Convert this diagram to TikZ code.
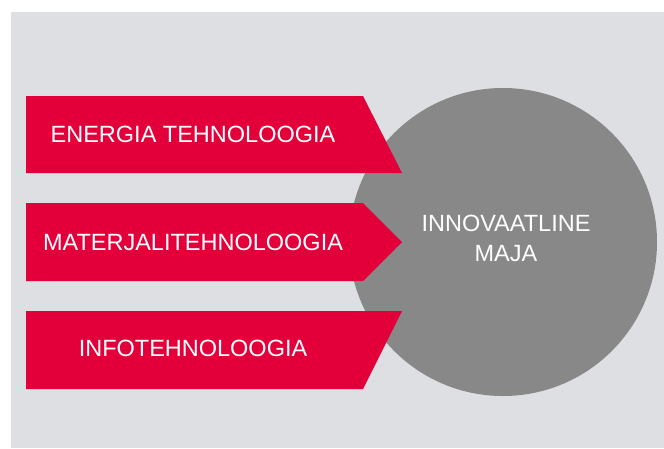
\documentclass[tikz,border=0pt]{standalone}
\usepackage{fontspec}
\setmainfont{Liberation Sans}
\definecolor{techred}{HTML}{E3003A}
\definecolor{panelgray}{HTML}{DEDFE3}
\definecolor{housegray}{HTML}{888888}
\tikzset{
  bandtext/.style={text=white,inner sep=0pt,anchor=base,font=\fontsize{23.5}{29.5}\selectfont},
}

\begin{document}
\begin{tikzpicture}[x=1pt,y=-1pt]
        \useasboundingbox (0,0) rectangle (664,448);
        \fill[panelgray] (11,12) rectangle (664,448);
        \fill[housegray] (503,242) circle (154pt);
    % the three bands pointing at the house
        \fill[techred] (26,96) -- (363,96) -- (402,173) -- (26,173) -- cycle;
        \fill[techred] (26,203) -- (363,203) -- (402,242) -- (363,281) -- (26,281) -- cycle;
        \fill[techred] (26,311) -- (402,311) -- (363,389) -- (26,389) -- cycle;
        \node[bandtext] (energia) at (193,142.3) {ENERGIA TEHNOLOOGIA};
        \node[bandtext] (materjal) at (193,250) {MATERJALITEHNOLOOGIA};
        \node[bandtext] (info) at (193,356) {INFOTEHNOLOOGIA};
%        \node (maja) at (503,242) {};
        \node[bandtext,align=center,anchor=center] (maja) at (506,238.5) {INNOVAATLINE\\MAJA};
\end{tikzpicture}
\end{document}
